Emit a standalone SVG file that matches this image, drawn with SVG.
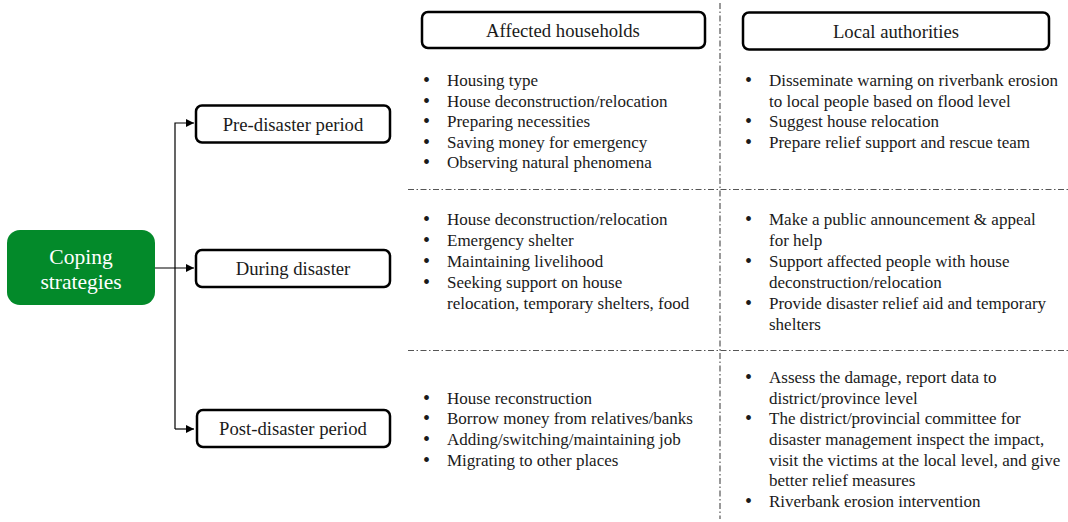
<svg xmlns="http://www.w3.org/2000/svg" width="1068" height="522" viewBox="0 0 1068 522">
<style>
text{font-family:"Liberation Serif","Times New Roman",serif;fill:#1a1a1a}
.box{fill:#fff;stroke:#000;stroke-width:2.5}
.lbl{font-size:18.7px;text-anchor:middle}
.it{font-size:17px}
.b{font-size:20px}
.conn{stroke:#000;stroke-width:1.2;fill:none}
.div{stroke:#555;stroke-width:1.2;fill:none;stroke-dasharray:6 2.5 1.5 2.5}
</style>
<defs>
<marker id="ah" viewBox="0 0 10 10" refX="10" refY="5" markerWidth="8" markerHeight="8" markerUnits="userSpaceOnUse" orient="auto"><path d="M0,0 L10,5 L0,10 z" fill="#000"/></marker>
</defs>
<rect width="1068" height="522" fill="#fff"/>
<g id="dividers">
<line class="div" x1="720" y1="3" x2="720" y2="519"/>
<line class="div" x1="408" y1="189.5" x2="1068" y2="189.5"/>
<line class="div" x1="408" y1="350.5" x2="1068" y2="350.5"/>
</g>
<g id="connectors">
<path class="conn" d="M175,429 V123 H194" marker-end="url(#ah)"/>
<path class="conn" d="M155,268 H194" marker-end="url(#ah)"/>
<path class="conn" d="M175,429 H194" marker-end="url(#ah)"/>
</g>
<g id="coping">
<rect x="7" y="230" width="148" height="75" rx="13" fill="#038a2a"/>
<text x="81" y="264" font-size="21.5" text-anchor="middle" style="fill:#fff">Coping</text>
<text x="81" y="289" font-size="21.5" text-anchor="middle" style="fill:#fff">strategies</text>
</g>
<g id="pre">
<rect class="box" x="196" y="105.5" width="194" height="37" rx="6"/>
<text class="lbl" x="293" y="131">Pre-disaster period</text>
</g>
<g id="during">
<rect class="box" x="196" y="250" width="194" height="37" rx="6"/>
<text class="lbl" x="293" y="275">During disaster</text>
</g>
<g id="post">
<rect class="box" x="197" y="410" width="193" height="37" rx="6"/>
<text class="lbl" x="293" y="435">Post-disaster period</text>
</g>
<g id="households">
<rect class="box" x="422" y="12" width="283" height="36" rx="6"/>
<text class="lbl" x="563" y="36.5">Affected households</text>
</g>
<g id="authorities">
<rect class="box" x="743" y="12.5" width="306" height="37" rx="6"/>
<text class="lbl" x="896" y="38">Local authorities</text>
</g>
<g id="pre-households" class="it">
<text class="b" x="423" y="87">•</text><text x="447" y="86">Housing type</text>
<text class="b" x="423" y="108">•</text><text x="447" y="107">House deconstruction/relocation</text>
<text class="b" x="423" y="128">•</text><text x="447" y="127">Preparing necessities</text>
<text class="b" x="423" y="149">•</text><text x="447" y="148">Saving money for emergency</text>
<text class="b" x="423" y="169">•</text><text x="447" y="168">Observing natural phenomena</text>
</g>
<g id="pre-authorities" class="it">
<text class="b" x="745" y="87">•</text><text x="769" y="86">Disseminate warning on riverbank erosion</text>
<text x="769" y="107">to local people based on flood level</text>
<text class="b" x="745" y="128">•</text><text x="769" y="127">Suggest house relocation</text>
<text class="b" x="745" y="149">•</text><text x="769" y="148">Prepare relief support and rescue team</text>
</g>
<g id="during-households" class="it">
<text class="b" x="423" y="226">•</text><text x="447" y="225">House deconstruction/relocation</text>
<text class="b" x="423" y="247">•</text><text x="447" y="246">Emergency shelter</text>
<text class="b" x="423" y="268">•</text><text x="447" y="267">Maintaining livelihood</text>
<text class="b" x="423" y="289">•</text><text x="447" y="288">Seeking support on house</text>
<text x="447" y="309">relocation, temporary shelters, food</text>
</g>
<g id="during-authorities" class="it">
<text class="b" x="745" y="226">•</text><text x="769" y="225">Make a public announcement &amp; appeal</text>
<text x="769" y="246">for help</text>
<text class="b" x="745" y="268">•</text><text x="769" y="267">Support affected people with house</text>
<text x="769" y="288">deconstruction/relocation</text>
<text class="b" x="745" y="310">•</text><text x="769" y="309">Provide disaster relief aid and temporary</text>
<text x="769" y="330">shelters</text>
</g>
<g id="post-households" class="it">
<text class="b" x="423" y="405">•</text><text x="447" y="404">House reconstruction</text>
<text class="b" x="423" y="425">•</text><text x="447" y="424">Borrow money from relatives/banks</text>
<text class="b" x="423" y="446">•</text><text x="447" y="445">Adding/switching/maintaining job</text>
<text class="b" x="423" y="467">•</text><text x="447" y="466">Migrating to other places</text>
</g>
<g id="post-authorities" class="it">
<text class="b" x="745" y="384">•</text><text x="769" y="383">Assess the damage, report data to</text>
<text x="769" y="404">district/province level</text>
<text class="b" x="745" y="425">•</text><text x="769" y="424">The district/provincial committee for</text>
<text x="769" y="445">disaster management inspect the impact,</text>
<text x="769" y="466">visit the victims at the local level, and give</text>
<text x="769" y="486">better relief measures</text>
<text class="b" x="745" y="508">•</text><text x="769" y="507">Riverbank erosion intervention</text>
</g>
</svg>
